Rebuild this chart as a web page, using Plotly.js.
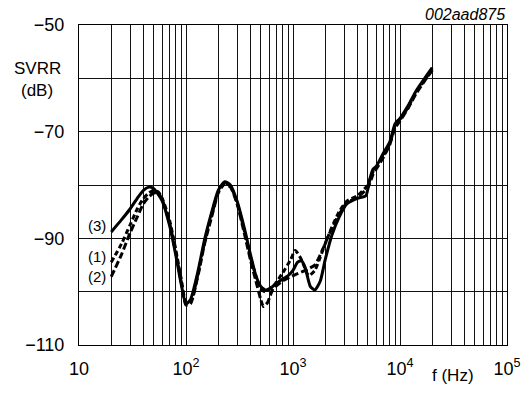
<!DOCTYPE html>
<html>
<head>
<meta charset="utf-8">
<script src="https://cdn.plot.ly/plotly-3.0.1.min.js"></script>
<style>html,body{margin:0;padding:0;background:#fff;}#chart{width:521px;height:397px;}</style>
</head>
<body>
<div id="chart"></div>
<script>
// Curve (3) — solid
const f3 = [20,25,30,35,40,45,50,60,70,80,90,100,110,130,150,180,200,230,260,300,350,400,450,500,560,650,750,900,1000,1100,1200,1300,1450,1600,1800,2000,2300,2700,3200,4000,4800,5200,5600,6000,7000,8000,9000,10000,12000,14000,17000,20000];
const svrr3 = [-88.8,-86.5,-84.5,-82.5,-81.0,-80.4,-80.7,-83,-87.5,-93,-98.5,-102.3,-101.5,-96,-90,-84,-81,-79.4,-80,-83,-88,-93,-97,-99,-99.7,-99,-98,-97,-96,-94.5,-94.2,-95.5,-99,-99.7,-98,-94,-89.5,-86,-83.5,-82.5,-82,-79,-77,-76.5,-74,-72,-68.5,-67.5,-65,-62.5,-60,-58];
// Curve (1) — dashed
const f1 = [20,25,30,35,40,45,50,55,60,70,80,90,100,110,130,150,180,200,230,260,300,350,400,450,500,550,650,800,950,1050,1200,1400,1600,1800,2000,2300,2700,3200,4000,5000,5600,6000,7000,8000,9000,10000,12000,14000,17000,20000];
const svrr1 = [-94.5,-91,-87.5,-84.5,-82.5,-81.5,-81,-81.3,-82.5,-86.5,-92,-97.5,-102,-102,-96.5,-90.5,-84.5,-81.3,-79.6,-80.2,-83.3,-88.5,-93.5,-97,-99.5,-100,-99,-96.5,-94,-92.3,-94,-97,-96,-93.5,-91,-88,-85,-83,-82,-80,-77.5,-76.8,-74.5,-72.3,-69,-67.8,-65.3,-62.8,-60.3,-58.3];
// Curve (2) — dashed
const f2 = [20,25,30,35,40,45,50,55,60,70,80,90,100,110,130,150,180,200,230,260,300,350,400,450,500,530,580,650,800,1000,1300,1600,1900,2200,2700,3200,4000,5000,5600,6000,7000,8000,9000,10000,12000,14000,17000,20000];
const svrr2 = [-97.2,-93,-89,-86,-83.5,-82.2,-81.5,-81.5,-82.8,-87,-92.5,-98,-102.5,-102.3,-96.8,-90.8,-84.8,-81.5,-79.8,-80.4,-83.5,-89,-94,-98,-101.5,-102.8,-102,-99.5,-98,-97,-96,-95,-92,-89,-85.5,-83.3,-82.3,-80.5,-78,-77,-74.8,-72.5,-69.3,-68,-65.5,-63,-60.5,-58.5];

const curveLabels = ['(3)','(1)','(2)'];
const curveLabelY = [-87.5,-93.4,-97.2];

const yTicks = [-110,-100,-90,-80,-70,-60,-50];
const yTickText = ['\u2212110','','\u221290','','\u221270','','\u221250'];

const xTicks = [];
const xTickText = [];
for (let d = 1; d <= 4; d++) {
  for (let m = 1; m <= 9; m++) {
    xTicks.push(m * Math.pow(10, d));
    xTickText.push(m === 1 ? (d === 1 ? '10' : '10<sup>' + d + '</sup>') : '');
  }
}
xTicks.push(100000); xTickText.push('10<sup>5</sup>');

const font = 'Arial, "Liberation Sans", sans-serif';
const lw = 3;
const traces = [
  {x: f3, y: svrr3, mode: 'lines', line: {color: '#000', width: lw, shape: 'spline', smoothing: 0.6}, hoverinfo: 'none'},
  {x: f1, y: svrr1, mode: 'lines', line: {color: '#000', width: lw, dash: '5px,3px', shape: 'spline', smoothing: 0.6}, hoverinfo: 'none'},
  {x: f2, y: svrr2, mode: 'lines', line: {color: '#000', width: lw, dash: '7px,3px', shape: 'spline', smoothing: 0.6}, hoverinfo: 'none'}
];

const annotations = curveLabels.map((t, i) => ({
  x: 0.068, y: curveLabelY[i], xref: 'paper', yref: 'y', text: t, showarrow: false,
  xanchor: 'right', yanchor: 'middle', font: {family: font, size: 15, color: '#000'}
}));
annotations.push({x: -0.098, y: -58.2, xref: 'paper', yref: 'y', text: 'SVRR', showarrow: false, xanchor: 'center', yanchor: 'middle', font: {family: font, size: 17, color: '#000'}});
annotations.push({x: -0.098, y: -62.2, xref: 'paper', yref: 'y', text: '(dB)', showarrow: false, xanchor: 'center', yanchor: 'middle', font: {family: font, size: 17, color: '#000'}});
annotations.push({x: 0.874, y: -0.094, xref: 'paper', yref: 'paper', text: 'f (Hz)', showarrow: false, xanchor: 'center', yanchor: 'middle', font: {family: font, size: 17, color: '#000'}});
annotations.push({x: 1.0, y: 1.034, xref: 'paper', yref: 'paper', text: '<i>002aad875</i>', showarrow: false, xanchor: 'right', yanchor: 'middle', font: {family: font, size: 16, color: '#000'}});

const layout = {
  width: 521, height: 397,
  margin: {l: 79, r: 14, t: 25, b: 52},
  paper_bgcolor: '#fff', plot_bgcolor: '#fff',
  showlegend: false,
  xaxis: {
    type: 'log', range: [1, 5], tickmode: 'array', tickvals: xTicks, ticktext: xTickText,
    showgrid: true, gridcolor: '#111', gridwidth: 1, zeroline: false,
    showline: true, linecolor: '#000', linewidth: 1, mirror: true,
    ticks: '', ticklabelstandoff: 7,
    tickfont: {family: font, size: 18, color: '#000'}
  },
  yaxis: {
    range: [-110, -50], tickmode: 'array', tickvals: yTicks, ticktext: yTickText,
    showgrid: true, gridcolor: '#111', gridwidth: 1, zeroline: false,
    showline: true, linecolor: '#000', linewidth: 1, mirror: true,
    ticks: '', ticklabelstandoff: 10,
    tickfont: {family: font, size: 18, color: '#000'}
  },
  annotations: annotations
};

Plotly.newPlot('chart', traces, layout, {staticPlot: true, displayModeBar: false});
</script>
</body>
</html>
